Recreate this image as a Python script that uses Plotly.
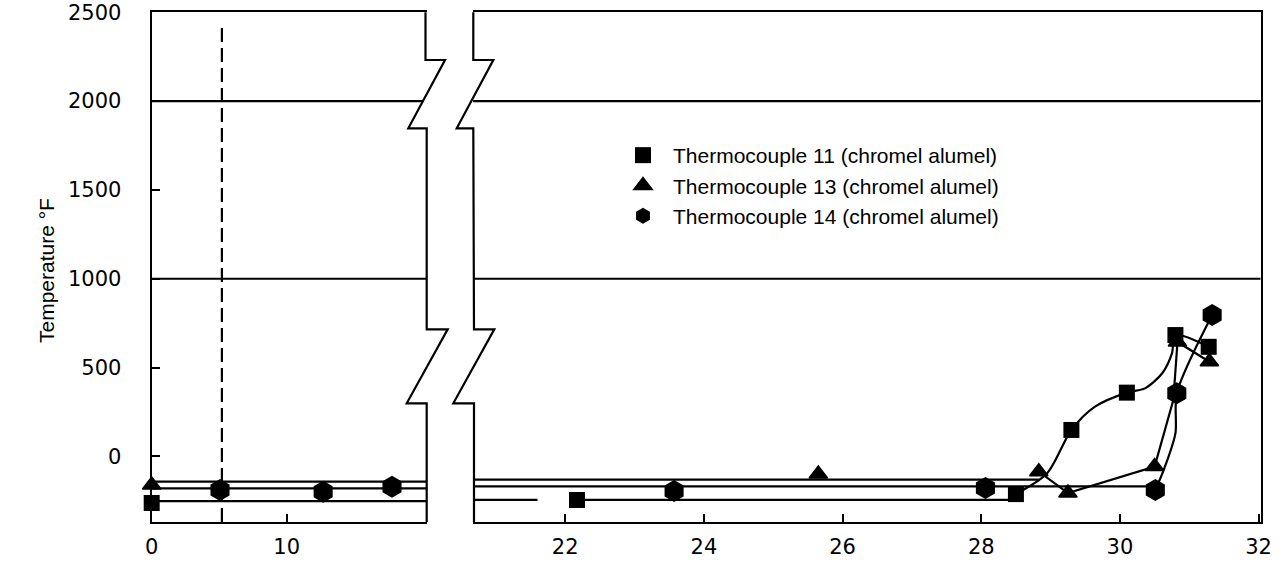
import plotly.graph_objects as go

W, H = 1282, 569

# ---------------- data ----------------
X_TICKS_LEFT = [0, 10]
X_TICKS_RIGHT = [22, 24, 26, 28, 30, 32]
Y_TICKS = [0, 500, 1000, 1500, 2000, 2500]
GRID_Y = [1000, 2000]
EVENT_X = 5.2  # dashed vertical line in the left panel

# left panel (0 - 20)
TC11_LEFT_X = [0]
TC11_LEFT_Y = [-262]
TC13_LEFT_X = [0]
TC13_LEFT_Y = [-161]
TC14_LEFT_X = [5.06, 12.7, 17.8]
TC14_LEFT_Y = [-189, -199, -170]

TC11_BASE_LEFT_X = [0, 20.4]
TC11_BASE_LEFT_Y = [-251, -251]
TC13_BASE_LEFT_X = [0, 20.4]
TC13_BASE_LEFT_Y = [-142, -142]
TC14_BASE_LEFT_X = [0, 20.4]
TC14_BASE_LEFT_Y = [-180, -180]

# right panel (20.7 - 32)
TC11_X = [22.17, 28.5, 29.3, 30.1, 30.8, 31.28]
TC11_Y = [-245, -212, 149, 359, 683, 617]
TC13_X = [25.65, 28.83, 29.25, 30.5, 30.83, 31.29]
TC13_Y = [-99, -86, -206, -57, 644, 533]
TC14_X = [23.57, 28.06, 30.51, 30.82, 31.33]
TC14_Y = [-195, -178, -189, 355, 796]

TC11_BASE_X = [20.67, 21.6, None, 22.17, 28.5]
TC11_BASE_Y = [-245, -245, None, -245, -245]
TC13_BASE_X = [20.67, 28.83]
TC13_BASE_Y = [-130, -130]
TC14_BASE_X = [20.67, 30.51]
TC14_BASE_Y = [-169, -169]

TC11_CURVE_X = [28.5, 28.95, 29.3, 29.64, 30.1, 30.36, 30.61, 30.75, 30.8, 31.28]
TC11_CURVE_Y = [-212, -95, 149, 280, 359, 383, 468, 580, 683, 617]
TC13_CURVE_X = [28.83, 29.25, 30.5, 30.77, 30.83, 31.29]
TC13_CURVE_Y = [-86, -206, -57, 317, 644, 533]
TC14_CURVE_X = [30.51, 30.64, 30.8, 30.82, 31.33]
TC14_CURVE_Y = [-189, -67, 130, 355, 796]

NAMES = ["Thermocouple 11 (chromel alumel)",
         "Thermocouple 13 (chromel alumel)",
         "Thermocouple 14 (chromel alumel)"]

# ---------------- layout geometry (pixels) ----------------
L_X0, L_X1 = 151.7, 426.7
R_X0, R_X1 = 473.0, 1260.7
P_TOP, P_BOT = 12.2, 522.0


def px(x):
    return x / W


def py(y):
    return 1 - y / H


INK = "black"
LW = 2.2

fig = go.Figure()


def line_trace(x, y, xa, ya, shape="linear"):
    fig.add_trace(go.Scatter(x=x, y=y, xaxis=xa, yaxis=ya, mode="lines",
                             line=dict(color=INK, width=LW, shape=shape, smoothing=0.8),
                             showlegend=False, hoverinfo="skip"))


# base lines / curves
line_trace(TC11_BASE_LEFT_X, TC11_BASE_LEFT_Y, "x", "y")
line_trace(TC13_BASE_LEFT_X, TC13_BASE_LEFT_Y, "x", "y")
line_trace(TC14_BASE_LEFT_X, TC14_BASE_LEFT_Y, "x", "y")
line_trace(TC11_BASE_X, TC11_BASE_Y, "x2", "y2")
line_trace(TC13_BASE_X, TC13_BASE_Y, "x2", "y2")
line_trace(TC14_BASE_X, TC14_BASE_Y, "x2", "y2")
line_trace(TC11_CURVE_X, TC11_CURVE_Y, "x2", "y2", "spline")
line_trace(TC13_CURVE_X, TC13_CURVE_Y, "x2", "y2")
line_trace(TC14_CURVE_X, TC14_CURVE_Y, "x2", "y2", "spline")

MK = [dict(symbol="square", size=16, color=INK),
      dict(symbol="triangle-up", size=16, color=INK, line=dict(color=INK, width=1.5)),
      dict(symbol="hexagon", size=22, color=INK)]

left_sets = [(TC11_LEFT_X, TC11_LEFT_Y), (TC13_LEFT_X, TC13_LEFT_Y), (TC14_LEFT_X, TC14_LEFT_Y)]
right_sets = [(TC11_X, TC11_Y), (TC13_X, TC13_Y), (TC14_X, TC14_Y)]

for i, (x, y) in enumerate(left_sets):
    fig.add_trace(go.Scatter(x=x, y=y, xaxis="x", yaxis="y", mode="markers",
                             marker=MK[i], cliponaxis=False, showlegend=False,
                             name=NAMES[i]))
for i, (x, y) in enumerate(right_sets):
    fig.add_trace(go.Scatter(x=x, y=y, xaxis="x2", yaxis="y2", mode="markers",
                             marker=MK[i], cliponaxis=False, showlegend=True,
                             name=NAMES[i], legendgroup="g%d" % i))

TICKFONT = dict(family="DejaVu Sans", size=21, color=INK)

common_y = dict(range=[-369, 2500], domain=[py(P_BOT), py(P_TOP)], showgrid=False,
                zeroline=False, linecolor=INK, linewidth=LW, automargin=False)
fig.update_layout(
    width=W, height=H, autosize=False,
    margin=dict(l=0, r=0, t=0, b=0, pad=0, autoexpand=False),
    paper_bgcolor="white", plot_bgcolor="white",
    xaxis=dict(domain=[px(L_X0), px(L_X1)], range=[0, 20.37], anchor="y",
               tickvals=X_TICKS_LEFT, ticktext=[str(v) for v in X_TICKS_LEFT],
               ticks="inside", ticklen=8, tickwidth=LW, tickcolor=INK,
               showline=True, mirror=True, linecolor=INK, linewidth=LW,
               showgrid=False, zeroline=False, tickfont=TICKFONT, ticklabelstandoff=5,
               ticklabeloverflow="allow", automargin=False),
    xaxis2=dict(domain=[px(R_X0), px(R_X1)], range=[20.67, 32.03], anchor="y2",
                tickvals=X_TICKS_RIGHT, ticktext=[str(v) for v in X_TICKS_RIGHT],
                ticks="inside", ticklen=8, tickwidth=LW, tickcolor=INK,
                showline=True, mirror=True, linecolor=INK, linewidth=LW,
                showgrid=False, zeroline=False, tickfont=TICKFONT, ticklabelstandoff=5,
                ticklabeloverflow="allow", automargin=False),
    yaxis=dict(anchor="x", tickvals=Y_TICKS, ticktext=[str(v) for v in Y_TICKS],
               ticks="inside", ticklen=8, tickwidth=LW, tickcolor=INK,
               showline=True, mirror=False, tickfont=TICKFONT, ticklabelstandoff=24,
               ticklabeloverflow="allow", **common_y),
    yaxis2=dict(anchor="x2", side="right", showline=True, mirror=False,
                showticklabels=False, ticks="", **common_y),
    legend=dict(x=px(613), y=py(135), xanchor="left", yanchor="top",
                font=dict(family="Liberation Sans", size=21, color=INK),
                bgcolor="rgba(0,0,0,0)", traceorder="grouped", tracegroupgap=0,
                itemwidth=50),
    showlegend=True,
)

shapes = []
# horizontal grid lines
for gy in GRID_Y:
    shapes.append(dict(type="line", xref="x", yref="y", x0=0,
                       x1=20.37 if gy < 1500 else 20.1, y0=gy, y1=gy,
                       line=dict(color=INK, width=LW)))
    shapes.append(dict(type="line", xref="x2", yref="y2", x0=20.67, x1=32.03, y0=gy, y1=gy,
                       line=dict(color=INK, width=LW)))
# dashed event line
shapes.append(dict(type="line", xref="x", yref="y", x0=EVENT_X, x1=EVENT_X, y0=-369, y1=2445,
                   line=dict(color=INK, width=LW, dash="14px,6px")))


def path(pts):
    return "M " + " L ".join("%.5f,%.5f" % (px(a), py(b)) for a, b in pts)


# broken-axis borders (zigzags)
left_border = [(425.5, P_TOP), (425.5, 60), (445, 60), (408.3, 128.3), (426.7, 128.3),
               (426.7, 329.3), (447.7, 329.3), (406.7, 403.3), (426.7, 403.3), (426.7, P_BOT)]
right_border = [(473.3, P_TOP), (473.3, 60), (493.3, 60), (456.7, 128.3), (473.3, 128.3),
                (474, 329.3), (494.3, 329.3), (453.3, 403.3), (474, 403.3), (474, P_BOT)]
for pts in (left_border, right_border):
    shapes.append(dict(type="path", xref="paper", yref="paper", path=path(pts),
                       line=dict(color=INK, width=LW)))
fig.update_layout(shapes=shapes)

fig.add_annotation(text="Temperature °F", xref="paper", yref="paper", x=px(46), y=py(271),
                   xanchor="center", yanchor="middle",
                   textangle=-90, showarrow=False,
                   font=dict(family="Liberation Sans", size=21, color=INK))

fig.write_html("out.html", config={"displayModeBar": False, "responsive": False},
               post_script="document.body.style.margin='0px';document.body.style.overflow='hidden';")
